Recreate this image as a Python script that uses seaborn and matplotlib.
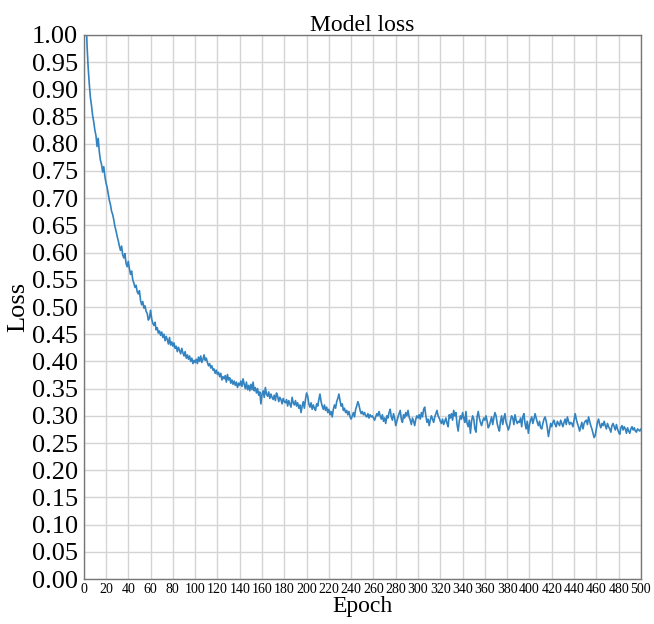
import numpy as np
import pandas as pd
import matplotlib
matplotlib.use("Agg")
import matplotlib.pyplot as plt
import seaborn as sns

# Loss values, one per epoch (1..500)
loss = [
    1.150, 1.040, 0.980, 0.940, 0.910, 0.885, 0.870, 0.852, 0.840, 0.825,
    0.815, 0.795, 0.810, 0.785, 0.770, 0.762, 0.748, 0.758, 0.740, 0.728,
    0.720, 0.708, 0.696, 0.688, 0.676, 0.670, 0.660, 0.648, 0.640, 0.630,
    0.622, 0.612, 0.604, 0.612, 0.596, 0.590, 0.598, 0.580, 0.574, 0.584,
    0.570, 0.560, 0.566, 0.550, 0.544, 0.536, 0.540, 0.528, 0.524, 0.530,
    0.512, 0.504, 0.510, 0.498, 0.502, 0.492, 0.488, 0.476, 0.480, 0.494,
    0.478, 0.470, 0.466, 0.472, 0.458, 0.462, 0.452, 0.456, 0.448, 0.454,
    0.444, 0.450, 0.438, 0.446, 0.440, 0.432, 0.444, 0.430, 0.436, 0.428,
    0.434, 0.424, 0.428, 0.418, 0.426, 0.420, 0.414, 0.424, 0.416, 0.410,
    0.418, 0.406, 0.412, 0.404, 0.410, 0.400, 0.406, 0.396, 0.402, 0.398,
    0.404, 0.396, 0.408, 0.400, 0.410, 0.398, 0.404, 0.412, 0.402, 0.406,
    0.398, 0.392, 0.396, 0.388, 0.392, 0.384, 0.386, 0.378, 0.384, 0.376,
    0.380, 0.372, 0.378, 0.366, 0.372, 0.368, 0.374, 0.362, 0.376, 0.366,
    0.370, 0.360, 0.366, 0.358, 0.364, 0.356, 0.362, 0.352, 0.360, 0.356,
    0.364, 0.354, 0.368, 0.358, 0.350, 0.362, 0.348, 0.356, 0.346, 0.358,
    0.348, 0.362, 0.346, 0.352, 0.342, 0.350, 0.338, 0.344, 0.322, 0.340,
    0.346, 0.334, 0.352, 0.340, 0.336, 0.344, 0.332, 0.340, 0.334, 0.330,
    0.338, 0.328, 0.342, 0.336, 0.326, 0.334, 0.330, 0.322, 0.332, 0.326,
    0.324, 0.330, 0.318, 0.328, 0.322, 0.316, 0.334, 0.324, 0.320, 0.328,
    0.318, 0.324, 0.314, 0.320, 0.306, 0.318, 0.326, 0.314, 0.330, 0.342,
    0.336, 0.322, 0.316, 0.324, 0.312, 0.320, 0.314, 0.310, 0.322, 0.318,
    0.330, 0.340, 0.326, 0.318, 0.312, 0.320, 0.310, 0.316, 0.306, 0.312,
    0.302, 0.308, 0.298, 0.312, 0.320, 0.314, 0.326, 0.332, 0.340, 0.328,
    0.318, 0.322, 0.310, 0.314, 0.306, 0.310, 0.302, 0.308, 0.298, 0.294,
    0.300, 0.306, 0.298, 0.312, 0.318, 0.326, 0.320, 0.310, 0.304, 0.308,
    0.302, 0.306, 0.300, 0.298, 0.304, 0.296, 0.302, 0.298, 0.300, 0.296,
    0.292, 0.298, 0.304, 0.300, 0.308, 0.300, 0.294, 0.302, 0.290, 0.296,
    0.286, 0.300, 0.296, 0.306, 0.312, 0.298, 0.292, 0.304, 0.296, 0.282,
    0.290, 0.298, 0.304, 0.310, 0.294, 0.288, 0.302, 0.296, 0.306, 0.300,
    0.310, 0.298, 0.292, 0.284, 0.296, 0.290, 0.282, 0.294, 0.300, 0.296,
    0.302, 0.294, 0.306, 0.298, 0.312, 0.316, 0.300, 0.288, 0.294, 0.282,
    0.292, 0.300, 0.294, 0.288, 0.298, 0.304, 0.310, 0.300, 0.296, 0.290,
    0.286, 0.294, 0.284, 0.290, 0.296, 0.286, 0.280, 0.302, 0.296, 0.304,
    0.292, 0.310, 0.300, 0.306, 0.284, 0.272, 0.290, 0.300, 0.294, 0.306,
    0.296, 0.288, 0.308, 0.286, 0.280, 0.292, 0.268, 0.290, 0.300, 0.294,
    0.276, 0.270, 0.298, 0.308, 0.296, 0.288, 0.282, 0.290, 0.296, 0.292,
    0.300, 0.290, 0.278, 0.282, 0.290, 0.298, 0.284, 0.296, 0.306, 0.300,
    0.286, 0.278, 0.272, 0.290, 0.300, 0.284, 0.296, 0.304, 0.288, 0.282,
    0.274, 0.280, 0.292, 0.300, 0.296, 0.284, 0.302, 0.292, 0.286, 0.290,
    0.288, 0.296, 0.280, 0.298, 0.304, 0.286, 0.276, 0.290, 0.268, 0.284,
    0.292, 0.298, 0.286, 0.294, 0.304, 0.296, 0.288, 0.282, 0.290, 0.278,
    0.276, 0.286, 0.294, 0.298, 0.290, 0.278, 0.262, 0.274, 0.286, 0.280,
    0.288, 0.292, 0.284, 0.280, 0.290, 0.286, 0.282, 0.292, 0.286, 0.280,
    0.288, 0.294, 0.284, 0.298, 0.290, 0.284, 0.288, 0.286, 0.280, 0.292,
    0.304, 0.294, 0.286, 0.280, 0.272, 0.280, 0.288, 0.276, 0.286, 0.290,
    0.292, 0.284, 0.298, 0.290, 0.282, 0.276, 0.268, 0.260, 0.264, 0.276,
    0.288, 0.294, 0.284, 0.278, 0.286, 0.282, 0.290, 0.282, 0.276, 0.286,
    0.280, 0.276, 0.270, 0.282, 0.286, 0.280, 0.274, 0.284, 0.276, 0.270,
    0.266, 0.278, 0.282, 0.274, 0.280, 0.276, 0.268, 0.278, 0.272, 0.268,
    0.276, 0.280, 0.274, 0.278, 0.272, 0.270, 0.276, 0.274, 0.272, 0.276,
]
epochs = list(range(1, len(loss) + 1))

x_ticks = list(range(0, 501, 20))
y_ticks = [round(0.05 * i, 2) for i in range(21)]

df = pd.DataFrame({"Epoch": epochs, "Loss": loss})

# Style
sns.set_style("whitegrid")
plt.rcParams['font.family'] = ['Liberation Serif', 'DejaVu Serif']
plt.rcParams['text.color'] = 'black'
plt.rcParams['axes.labelcolor'] = 'black'
plt.rcParams['xtick.labelcolor'] = 'black'
plt.rcParams['ytick.labelcolor'] = 'black'

fig = plt.figure(figsize=(6.54, 6.24), dpi=100)
ax = fig.add_axes([0.128, 0.072, 0.852, 0.872])

sns.lineplot(data=df, x="Epoch", y="Loss", ax=ax, color="#3383c0", linewidth=1.2)

ax.set_xlim(0, 500)
ax.set_ylim(0, 1.0)
ax.set_xticks(x_ticks)
ax.set_yticks(y_ticks)
ax.set_yticklabels([f"{v:.2f}" for v in y_ticks])

ax.grid(True, color="#d4d4d4", linewidth=1.0)
for side in ["left", "bottom", "top", "right"]:
    ax.spines[side].set_visible(True)
    ax.spines[side].set_color("#777777")
    ax.spines[side].set_linewidth(1.0)

ax.tick_params(axis="y", labelsize=19, length=3, width=0.8, color="#777777", pad=1)
ax.tick_params(axis="x", labelsize=10, length=2, width=0.8, color="#777777", pad=1)

ax.set_title("Model loss", fontsize=17, pad=3)
ax.set_xlabel("Epoch", fontsize=17, labelpad=0)
ax.set_ylabel("Loss", fontsize=19, labelpad=2)

fig.savefig("out.png", dpi=100)
